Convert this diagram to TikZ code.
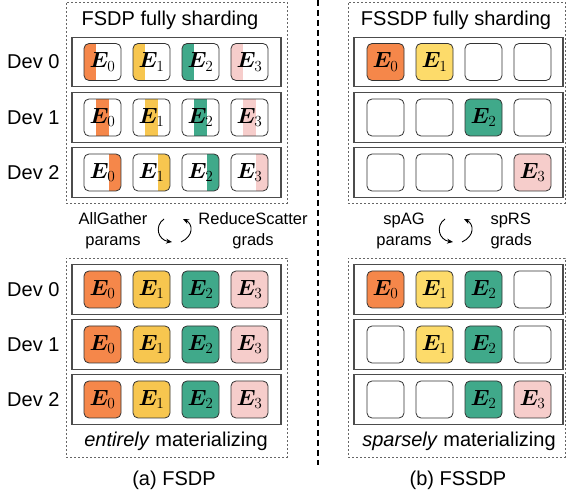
\documentclass[tikz,border=0pt]{standalone}
\usepackage{fix-cm}
\usepackage{fontspec}
\setmainfont{Liberation Sans}
\usepackage{bm}
\usepackage{tikz}
\usetikzlibrary{arrows.meta}
\definecolor{eorange}{HTML}{F5874A}
\definecolor{eyellow}{HTML}{F7C64F}
\definecolor{elight}{HTML}{FDDB6A}
\definecolor{egreen}{HTML}{40A98A}
\definecolor{epink}{HTML}{F6CDCB}
\def\Ex#1{$\bm{E}_{#1}$}
\def\ecell(#1)(#2,#3)#4#5{\node[cell,fill=#4] (#1) at (#2,#3) {#5};}
\def\scell(#1)(#2,#3)#4#5#6{%
  \begin{scope}
    \clip[rounded corners=5pt] ({#2-18.5},{#3-18.5}) rectangle ++(37,37);
    \fill[#4] ({#2-18.5+#5*37/3},{#3-18.5}) rectangle ++({37/3},37);
  \end{scope}
  \node[cell] (#1) at (#2,#3) {#6};}

\begin{document}
\begin{tikzpicture}[x=1pt, y=-1pt,
    cell/.style={draw=black!80, line width=0.8pt, rounded corners=5pt, minimum size=37pt, inner sep=0pt, font=\fontsize{22}{24}\selectfont},
    rowbox/.style={draw=black!70, line width=1.1pt, minimum width=209pt, minimum height=49.5pt, inner sep=0pt},
    outer/.style={draw=black!60, line width=0.8pt, dash pattern=on 2pt off 2pt, inner sep=0pt},
    lbl/.style={font=\fontsize{20}{24}\selectfont},
    comm/.style={font=\fontsize{16.5}{21}\selectfont, align=center},
    cyc/.style={line width=0.9pt, -{Stealth[length=6pt, width=5pt]}}]
			%%%%% START %%%%%
			\useasboundingbox (0,0) rectangle (566,497);
			
			% dashed frames and rows
			\node[outer, minimum width=221pt, minimum height=201pt] (ftop) at (176.5,102.5) {};
			\node[outer, minimum width=217pt, minimum height=201pt] (stop) at (456.5,102.5) {};
			\node[outer, minimum width=221pt, minimum height=199pt] (fbot) at (176.5,357.5) {};
			\node[outer, minimum width=217pt, minimum height=199pt] (sbot) at (456.5,357.5) {};
			
			\node[rowbox] (fr0) at (176.5,62) {};
			\node[rowbox] (fr1) at (176.5,117.5) {};
			\node[rowbox] (fr2) at (176.5,172.5) {};
			\node[rowbox] (sr0) at (458.5,62) {};
			\node[rowbox] (sr1) at (458.5,117.5) {};
			\node[rowbox] (sr2) at (458.5,172.5) {};
			\node[rowbox] (fm0) at (176.5,289.5) {};
			\node[rowbox] (fm1) at (176.5,344.5) {};
			\node[rowbox] (fm2) at (176.5,399.5) {};
			\node[rowbox] (sm0) at (458.5,289.5) {};
			\node[rowbox] (sm1) at (458.5,344.5) {};
			\node[rowbox] (sm2) at (458.5,399.5) {};
			
			\node[lbl] (ttop1) at (170,20) {FSDP fully sharding};
			\node[lbl] (ttop2) at (456,20) {FSSDP fully sharding};
			
			\node[lbl, anchor=east] (dev0) at (63,62) {Dev 0};
			\node[lbl, anchor=east] (dev1) at (63,117.5) {Dev 1};
			\node[lbl, anchor=east] (dev2) at (63,172.5) {Dev 2};
			\node[lbl, anchor=east] (dev3) at (63,289.5) {Dev 0};
			\node[lbl, anchor=east] (dev4) at (63,344.5) {Dev 1};
			\node[lbl, anchor=east] (dev5) at (63,399.5) {Dev 2};
			
			% FSDP sharded
			\scell(a00)(102.5,62){eorange}{0}{\Ex0} \scell(a01)(151.5,62){eyellow}{0}{\Ex1} \scell(a02)(200.5,62){egreen}{0}{\Ex2} \scell(a03)(249.5,62){epink}{0}{\Ex3}
			\scell(a10)(102.5,117.5){eorange}{1}{\Ex0} \scell(a11)(151.5,117.5){eyellow}{1}{\Ex1} \scell(a12)(200.5,117.5){egreen}{1}{\Ex2} \scell(a13)(249.5,117.5){epink}{1}{\Ex3}
			\scell(a20)(102.5,172.5){eorange}{2}{\Ex0} \scell(a21)(151.5,172.5){eyellow}{2}{\Ex1} \scell(a22)(200.5,172.5){egreen}{2}{\Ex2} \scell(a23)(249.5,172.5){epink}{2}{\Ex3}
			
			% FSSDP sharded
			\ecell(b00)(385.5,62){eorange}{\Ex0} \ecell(b01)(434.5,62){elight}{\Ex1} \ecell(b02)(483.5,62){white}{} \ecell(b03)(532.5,62){white}{}
			\ecell(b10)(385.5,117.5){white}{} \ecell(b11)(434.5,117.5){white}{} \ecell(b12)(483.5,117.5){egreen}{\Ex2} \ecell(b13)(532.5,117.5){white}{}
			\ecell(b20)(385.5,172.5){white}{} \ecell(b21)(434.5,172.5){white}{} \ecell(b22)(483.5,172.5){white}{} \ecell(b23)(532.5,172.5){epink}{\Ex3}
			
			% FSDP materialized
			\ecell(c00)(102.5,289.5){eorange}{\Ex0} \ecell(c01)(151.5,289.5){eyellow}{\Ex1} \ecell(c02)(200.5,289.5){egreen}{\Ex2} \ecell(c03)(249.5,289.5){epink}{\Ex3}
			\ecell(c10)(102.5,344.5){eorange}{\Ex0} \ecell(c11)(151.5,344.5){eyellow}{\Ex1} \ecell(c12)(200.5,344.5){egreen}{\Ex2} \ecell(c13)(249.5,344.5){epink}{\Ex3}
			\ecell(c20)(102.5,399.5){eorange}{\Ex0} \ecell(c21)(151.5,399.5){eyellow}{\Ex1} \ecell(c22)(200.5,399.5){egreen}{\Ex2} \ecell(c23)(249.5,399.5){epink}{\Ex3}
			
			% FSSDP materialized
			\ecell(d00)(385.5,289.5){eorange}{\Ex0} \ecell(d01)(434.5,289.5){elight}{\Ex1} \ecell(d02)(483.5,289.5){egreen}{\Ex2} \ecell(d03)(532.5,289.5){white}{}
			\ecell(d10)(385.5,344.5){white}{} \ecell(d11)(434.5,344.5){elight}{\Ex1} \ecell(d12)(483.5,344.5){egreen}{\Ex2} \ecell(d13)(532.5,344.5){white}{}
			\ecell(d20)(385.5,399.5){white}{} \ecell(d21)(434.5,399.5){white}{} \ecell(d22)(483.5,399.5){egreen}{\Ex2} \ecell(d23)(532.5,399.5){epink}{\Ex3}
			
			% collectives
			\node[comm] (ag) at (113,231) {AllGather\\params};
			\node[comm] (rs) at (253,231) {ReduceScatter\\grads};
			\node[comm] (spag) at (404,231) {spAG\\params};
			\node[comm, anchor=west, align=left] (sprs) at (487,231) {spRS\\grads};
			
			\coordinate (ag0) at (164,219); \coordinate (ag1) at (172,242);
			\coordinate (rs0) at (181,242); \coordinate (rs1) at (183,219);
			\coordinate (sg0) at (445,219); \coordinate (sg1) at (453,242);
			\coordinate (sr0) at (462,242); \coordinate (sr1) at (464,219);
			\draw[cyc] (ag0) .. controls (154,226) and (158,240) .. (ag1);
			\draw[cyc] (rs0) .. controls (194,236) and (193,224) .. (rs1);
			\draw[cyc] (sg0) .. controls (435,226) and (439,240) .. (sg1);
			\draw[cyc] (sr0) .. controls (475,236) and (474,224) .. (sr1);
			
			\node[lbl] (mat1) at (176,441.5) {\textit{entirely} materializing};
			\node[lbl] (mat2) at (459,441.5) {\textit{sparsely} materializing};
			\node[lbl] (capa) at (174,480) {(a) FSDP};
			\node[lbl] (capb) at (458,480) {(b) FSSDP};
			
			\draw[line width=1.6pt, dash pattern=on 6pt off 4pt] (318,0) -- (318,465);
			%%%%% END %%%%%
\end{tikzpicture}
\end{document}
